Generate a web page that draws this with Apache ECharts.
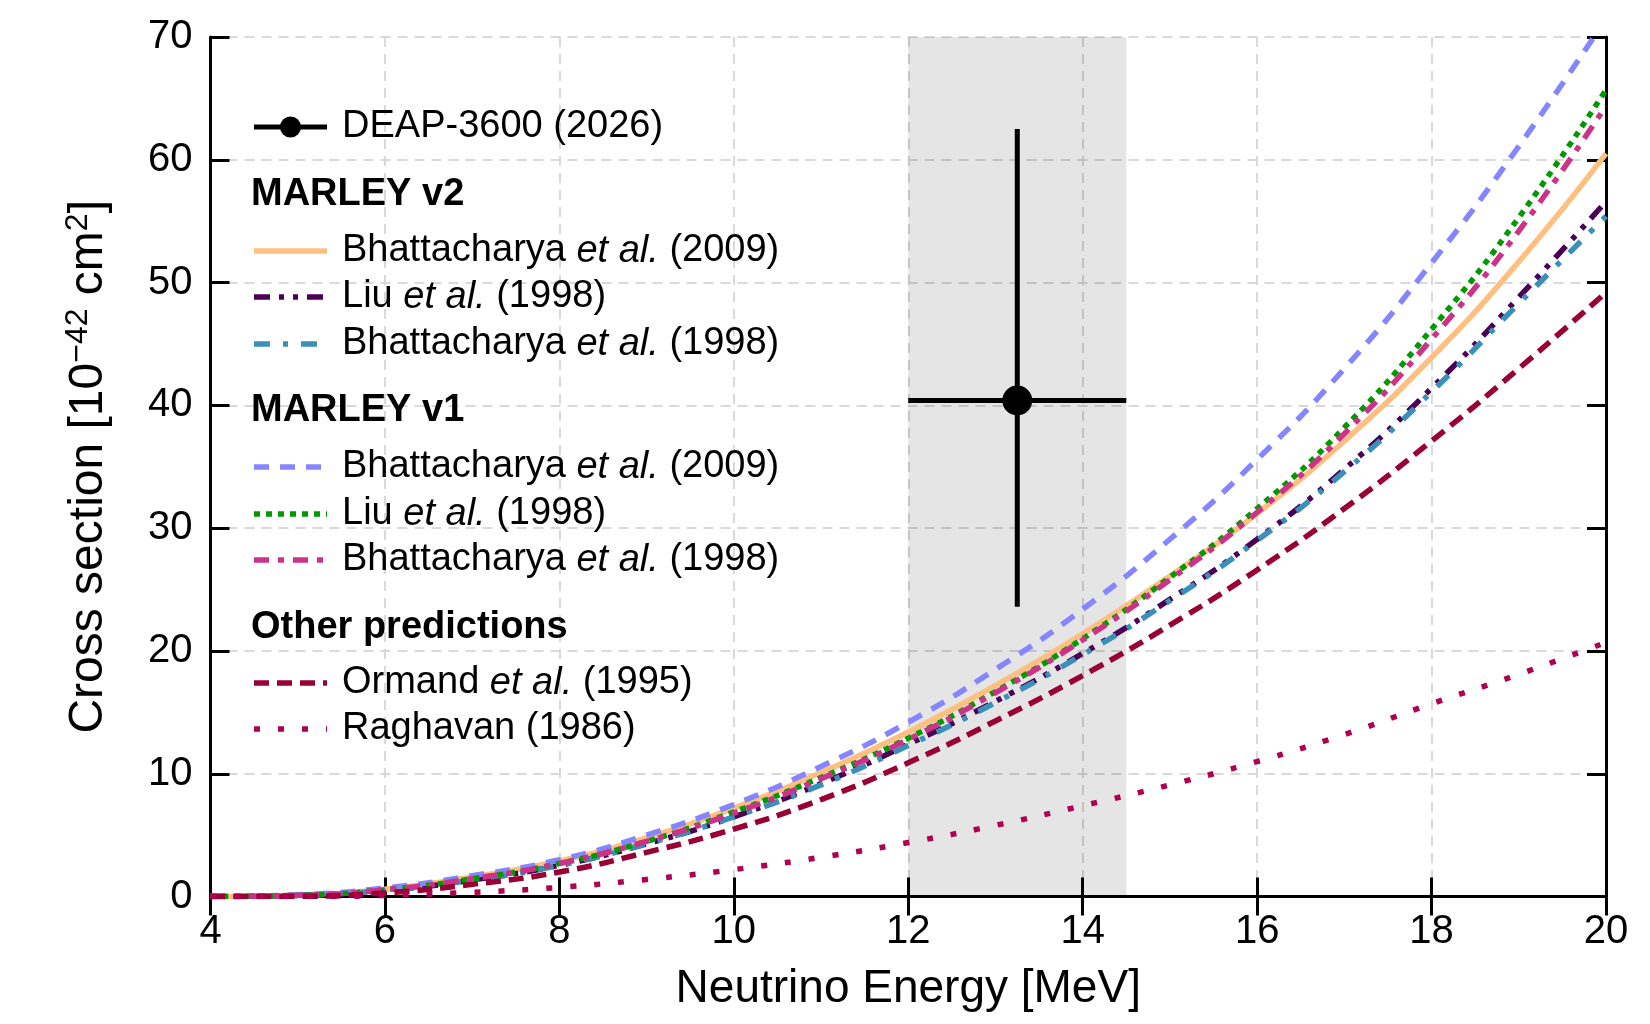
<!DOCTYPE html>
<html>
<head>
<meta charset="utf-8">
<script src="https://cdn.jsdelivr.net/npm/echarts@6/dist/echarts.min.js"></script>
<style>
  html, body { margin: 0; padding: 0; background: #ffffff; }
  #chart { width: 1650px; height: 1024px; }
</style>
</head>
<body>
<div id="chart"></div>
<script>
// Neutrino energy grid [MeV]
const energy = [4, 5, 6, 7, 8, 9, 10, 11, 12, 13, 14, 15, 16, 17, 18, 19, 20];

// Cross sections [1e-42 cm^2]
// MARLEY v2
const v2Bhatt2009 = [0, 0.12, 0.6, 1.6, 2.9, 4.8, 7.2, 10.1, 13.4, 17.2, 21.4, 26.1, 31.2, 37.1, 43.9, 51.7, 60.5];
const v2Liu1998   = [0, 0.1, 0.5, 1.35, 2.55, 4.3, 6.5, 9.2, 12.4, 15.9, 19.8, 24.2, 29.1, 34.8, 41.4, 48.8, 56.6];
const v2Bhatt1998 = [0, 0.1, 0.5, 1.35, 2.55, 4.3, 6.5, 9.1, 12.3, 15.8, 19.7, 24.1, 29.0, 34.6, 41.1, 48.3, 55.4];
// MARLEY v1
const v1Bhatt2009 = [0, 0.15, 0.7, 1.7, 3.0, 5.0, 7.5, 10.6, 14.2, 18.5, 23.4, 29.1, 35.6, 43.0, 51.6, 61.1, 71.5];
const v1Liu1998   = [0, 0.1, 0.55, 1.45, 2.7, 4.5, 6.9, 9.7, 12.9, 16.7, 21.0, 26.0, 31.6, 38.2, 46.2, 55.3, 65.7];
const v1Bhatt1998 = [0, 0.1, 0.55, 1.45, 2.7, 4.5, 6.8, 9.6, 12.8, 16.6, 20.9, 25.8, 31.3, 37.7, 45.4, 54.2, 64.4];
// Other predictions
const ormand1995   = [0, 0.02, 0.3, 1.0, 2.0, 3.6, 5.5, 7.9, 10.9, 14.3, 18.0, 22.1, 26.6, 31.6, 37.1, 43.0, 49.2];
const raghavan1986 = [0, 0, 0.1, 0.35, 0.75, 1.4, 2.2, 3.2, 4.4, 5.8, 7.4, 9.1, 11.0, 13.2, 15.7, 18.1, 20.7];

// DEAP-3600 measurement: [energy, xsec, energy low, energy high, xsec low, xsec high]
const deapPoint = [[13.25, 40.4, 12.0, 14.5, 23.6, 62.5]];
// Shaded energy window [MeV]
const energyWindow = [[12.0, 14.5]];

const xTicks = { min: 4, max: 20, interval: 2 };
const yTicks = { min: 0, max: 70, interval: 10 };

const FONT = "'Liberation Sans', Arial, Helvetica, sans-serif";
const LINE_W = 5.5;

function pairs(ys) { return energy.map((e, i) => [e, ys[i]]); }

const curves = [
  { name: 'v2 Bhattacharya 2009', data: v2Bhatt2009, color: '#ffbf80', dash: 'solid' },
  { name: 'v2 Liu 1998',          data: v2Liu1998,   color: '#4b0055', dash: [16, 9, 5, 9, 5, 9] },
  { name: 'v2 Bhattacharya 1998', data: v2Bhatt1998, color: '#3a90b8', dash: [16, 13, 5, 13] },
  { name: 'v1 Bhattacharya 2009', data: v1Bhatt2009, color: '#8585ff', dash: [15, 11] },
  { name: 'v1 Liu 1998',          data: v1Liu1998,   color: '#009900', dash: [6, 6] },
  { name: 'v1 Bhattacharya 1998', data: v1Bhatt1998, color: '#cc3388', dash: [15, 9, 6, 9] },
  { name: 'Ormand 1995',          data: ormand1995,  color: '#990033', dash: [15, 8] },
  { name: 'Raghavan 1986',        data: raghavan1986, color: '#b00050', dash: [6, 18] }
];

const curveSeries = curves.map(c => ({
  type: 'line',
  name: c.name,
  data: pairs(c.data),
  showSymbol: false,
  smooth: 0.5,
  clip: true,
  z: 3,
  lineStyle: { color: c.color, width: LINE_W, type: c.dash, cap: 'butt' },
  emphasis: { disabled: true }
}));

const bandSeries = {
  type: 'custom',
  name: 'window',
  z: 1,
  silent: true,
  data: energyWindow,
  renderItem: function (params, api) {
    const p0 = api.coord([api.value(0), yTicks.max]);
    const p1 = api.coord([api.value(1), yTicks.min]);
    return {
      type: 'rect',
      shape: { x: p0[0], y: p0[1], width: p1[0] - p0[0], height: p1[1] - p0[1] },
      style: { fill: 'rgba(0,0,0,0.10)' }
    };
  }
};

const deapSeries = {
  type: 'custom',
  name: 'DEAP-3600 (2026)',
  z: 5,
  silent: true,
  data: deapPoint,
  renderItem: function (params, api) {
    const c = api.coord([api.value(0), api.value(1)]);
    const l = api.coord([api.value(2), api.value(1)]);
    const r = api.coord([api.value(3), api.value(1)]);
    const b = api.coord([api.value(0), api.value(4)]);
    const t = api.coord([api.value(0), api.value(5)]);
    const ls = { stroke: '#000', lineWidth: 5 };
    return {
      type: 'group',
      children: [
        { type: 'line', shape: { x1: l[0], y1: l[1], x2: r[0], y2: r[1] }, style: ls },
        { type: 'line', shape: { x1: b[0], y1: b[1], x2: t[0], y2: t[1] }, style: ls },
        { type: 'circle', shape: { cx: c[0], cy: c[1], r: 15 }, style: { fill: '#000' } }
      ]
    };
  }
};

// Legend drawn as graphic elements
const LEG_X0 = 254, LEG_X1 = 327, LEG_TX = 342, LEG_HX = 251;
const LEG_FS = 38;
const legFont = { fontFamily: FONT, fontSize: LEG_FS, fill: '#000' };
const richIt = { it: { fontFamily: FONT, fontSize: LEG_FS, fontStyle: 'italic', fill: '#000' } };
const legendRows = [
  { y: 251, curve: 0, text: 'Bhattacharya {it|et al.} (2009)' },
  { y: 297, curve: 1, text: 'Liu {it|et al.} (1998)' },
  { y: 344, curve: 2, text: 'Bhattacharya {it|et al.} (1998)' },
  { y: 467, curve: 3, text: 'Bhattacharya {it|et al.} (2009)' },
  { y: 514, curve: 4, text: 'Liu {it|et al.} (1998)' },
  { y: 560, curve: 5, text: 'Bhattacharya {it|et al.} (1998)' },
  { y: 683, curve: 6, text: 'Ormand {it|et al.} (1995)' },
  { y: 729, curve: 7, text: 'Raghavan (1986)' }
];
const legendHeads = [
  { y: 195, text: 'MARLEY v2' },
  { y: 411, text: 'MARLEY v1' },
  { y: 628, text: 'Other predictions' }
];

const graphics = [];
// DEAP entry
graphics.push({ type: 'line', z: 10, shape: { x1: LEG_X0, y1: 127, x2: LEG_X1, y2: 127 }, style: { stroke: '#000', lineWidth: 5 } });
graphics.push({ type: 'circle', z: 10, shape: { cx: (LEG_X0 + LEG_X1) / 2, cy: 127, r: 10.5 }, style: { fill: '#000' } });
graphics.push({ type: 'text', z: 10, x: LEG_TX, y: 127, style: Object.assign({ text: 'DEAP-3600 (2026)', verticalAlign: 'middle' }, legFont) });
legendHeads.forEach(h => {
  graphics.push({ type: 'text', z: 10, x: LEG_HX, y: h.y, style: Object.assign({ text: h.text, verticalAlign: 'middle' }, legFont, { fontWeight: 'bold' }) });
});
legendRows.forEach(r => {
  const c = curves[r.curve];
  graphics.push({
    type: 'line', z: 10,
    shape: { x1: LEG_X0, y1: r.y, x2: LEG_X1, y2: r.y },
    style: { stroke: c.color, lineWidth: LINE_W, lineDash: c.dash === 'solid' ? null : c.dash, lineCap: 'butt' }
  });
  graphics.push({ type: 'text', z: 10, x: LEG_TX, y: r.y, style: Object.assign({ text: r.text, verticalAlign: 'middle', rich: richIt }, legFont) });
});

const tickStyle = { show: true, inside: true, length: 19, lineStyle: { color: '#000', width: 3 } };
const axisLineStyle = { show: true, lineStyle: { color: '#000', width: 3 } };
const gridLine = { show: true, lineStyle: { color: '#d9d9d9', width: 2, type: [10, 7] } };

const option = {
  animation: false,
  backgroundColor: '#ffffff',
  textStyle: { fontFamily: FONT },
  grid: { left: 210.5, right: 44, top: 37, bottom: 127.4, containLabel: false },
  xAxis: [
    {
      type: 'value', position: 'bottom',
      min: xTicks.min, max: xTicks.max, interval: xTicks.interval,
      axisLine: axisLineStyle, axisTick: tickStyle, splitLine: gridLine,
      axisLabel: { color: '#000', fontSize: 40, fontFamily: FONT, margin: 15 },
      name: 'Neutrino Energy [MeV]', nameLocation: 'middle', nameGap: 70,
      nameTextStyle: { color: '#000', fontSize: 46, fontFamily: FONT }
    },
    {
      type: 'value', position: 'top',
      min: xTicks.min, max: xTicks.max, interval: xTicks.interval,
      axisLine: axisLineStyle, axisTick: tickStyle, splitLine: { show: false },
      axisLabel: { show: false }
    }
  ],
  yAxis: [
    {
      type: 'value', position: 'left',
      min: yTicks.min, max: yTicks.max, interval: yTicks.interval,
      axisLine: axisLineStyle, axisTick: tickStyle, splitLine: gridLine,
      axisLabel: { color: '#000', fontSize: 40, fontFamily: FONT, margin: 18 },
      name: 'Cross section [10{sup|\u221242} cm{sup|2}]',
      nameLocation: 'middle', nameRotate: 90, nameGap: 96,
      nameTextStyle: {
        color: '#000', fontSize: 48, fontFamily: FONT,
        rich: { sup: { fontSize: 32, fontFamily: FONT, color: '#000', verticalAlign: 'top', padding: [0, 0, 20, 0] } }
      }
    },
    {
      type: 'value', position: 'right',
      min: yTicks.min, max: yTicks.max, interval: yTicks.interval,
      axisLine: axisLineStyle, axisTick: tickStyle, splitLine: { show: false },
      axisLabel: { show: false }
    }
  ],
  graphic: graphics,
  series: [bandSeries].concat(curveSeries, [deapSeries])
};

const chart = echarts.init(document.getElementById('chart'), null, { renderer: 'canvas' });
chart.setOption(option);
</script>
</body>
</html>
